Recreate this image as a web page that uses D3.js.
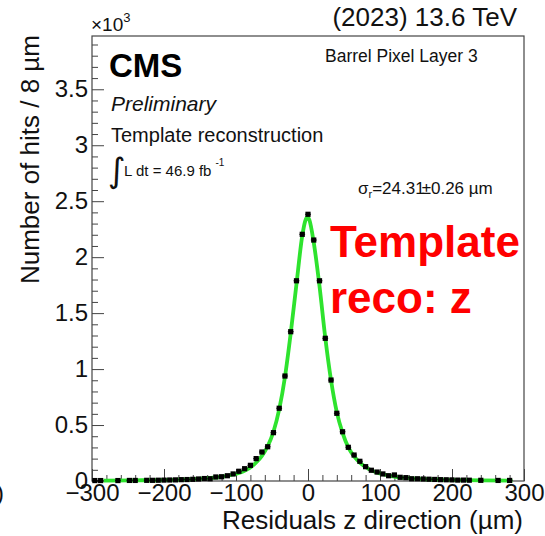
<!DOCTYPE html>
<html>
<head>
<meta charset="utf-8">
<script src="https://cdn.jsdelivr.net/npm/d3@7"></script>
<style>
  html, body { margin: 0; padding: 0; background: #fff; }
  svg { display: block; font-family: "Liberation Sans", Arial, Helvetica, sans-serif; }
</style>
</head>
<body>
<svg id="chart" width="545" height="536"></svg>
<script>
// Histogram: bin centres (µm, 8 µm bins) and contents (×10^3 hits)
const binCenters = [
  -296, -288, -264, -248, -240, -224, -216, -208, -200, -192, -184, -176, -168, -160,
  -152, -144, -136, -128, -120, -112, -104, -96, -88, -80, -72, -64, -56, -48, -40,
  -32, -24, -16, -8, 0, 8, 16, 24, 32, 40, 48, 56, 64, 72, 80, 88, 96, 104, 112,
  120, 128, 136, 144, 152, 160, 168, 176, 184, 192, 200, 208, 216, 224, 240, 264, 280
];
const binCounts = [
  0.004, 0.004, 0.004, 0.005, 0.005, 0.006, 0.006, 0.007, 0.008, 0.009, 0.010, 0.012, 0.013, 0.015,
  0.018, 0.022, 0.020, 0.036, 0.038, 0.047, 0.063, 0.087, 0.110, 0.140, 0.200, 0.259, 0.306, 0.432, 0.650,
  0.938, 1.334, 1.789, 2.204, 2.383, 2.153, 1.789, 1.275, 0.902, 0.605, 0.440, 0.301, 0.232, 0.176, 0.128, 0.096, 0.080, 0.063, 0.047,
  0.054, 0.033, 0.030, 0.020, 0.020, 0.018, 0.016, 0.014, 0.012, 0.011, 0.010, 0.008, 0.008, 0.007, 0.006, 0.005, 0.005
];
const binWidth = 8;

// Fitted resolution function, sampled along the residual axis
const fitX = [
  -284, -240, -200, -160, -140, -120, -104, -96, -88, -80, -72, -64, -56, -48, -40, -32, -24, -16, -8, -4, -1,
  2, 8, 16, 24, 32, 40, 48, 56, 64, 72, 80, 88, 96, 104, 120, 140, 160, 200, 240, 284
];
const fitY = [
  0.004, 0.006, 0.009, 0.017, 0.025, 0.038, 0.058, 0.072, 0.092, 0.120, 0.165, 0.225, 0.310, 0.440, 0.640, 0.930, 1.320, 1.760, 2.190, 2.320, 2.360,
  2.330, 2.130, 1.740, 1.280, 0.900, 0.615, 0.430, 0.300, 0.220, 0.165, 0.125, 0.095, 0.075, 0.060, 0.040, 0.026, 0.018, 0.010, 0.006, 0.004
];

const xMajorTicks = [-300, -200, -100, 0, 100, 200, 300];
const xMinorStep = 20;
const yMajorTicks = [0, 0.5, 1, 1.5, 2, 2.5, 3, 3.5];
const yMinorStep = 0.1;
const yMax = 3.976;

const frame = { left: 92, right: 524, top: 36, bottom: 481 };
const svg = d3.select("#chart");

const x = d3.scaleLinear().domain([-300, 300]).range([frame.left, frame.right]);
const y = d3.scaleLinear().domain([0, yMax]).range([frame.bottom, frame.top]);

const xMinor = d3.range(-300, 300.001, xMinorStep).filter(v => !xMajorTicks.includes(v));
const yMinor = d3.range(0, yMax, yMinorStep).map(v => +v.toFixed(2)).filter(v => !yMajorTicks.includes(v));

const fmtX = d => d < 0 ? "\u2212" + Math.abs(d) : String(d);
const fmtY = d => String(d);

// ---- axes (ticks pointing into the frame) ----
const gx = svg.append("g").attr("transform", `translate(0,${frame.bottom})`);
gx.call(d3.axisBottom(x).tickValues(xMajorTicks).tickSize(-12).tickPadding(3).tickFormat(fmtX));
gx.append("g").call(d3.axisBottom(x).tickValues(xMinor).tickSize(-6).tickFormat(""));
gx.selectAll(".domain").remove();
gx.selectAll("text").attr("font-size", 24).attr("fill", "#111").attr("font-family", "Liberation Sans, Arial, sans-serif");

const gy = svg.append("g").attr("transform", `translate(${frame.left},0)`);
gy.call(d3.axisLeft(y).tickValues(yMajorTicks).tickSize(-12).tickPadding(4).tickFormat(fmtY));
gy.append("g").call(d3.axisLeft(y).tickValues(yMinor).tickSize(-6).tickFormat(""));
gy.selectAll(".domain").remove();
gy.selectAll("text").attr("font-size", 24).attr("fill", "#111").attr("font-family", "Liberation Sans, Arial, sans-serif");

svg.selectAll(".tick line").attr("stroke", "#444").attr("stroke-width", 1);

// frame
svg.append("rect")
  .attr("x", frame.left).attr("y", frame.top)
  .attr("width", frame.right - frame.left).attr("height", frame.bottom - frame.top)
  .attr("fill", "none").attr("stroke", "#444").attr("stroke-width", 1.2);

// ---- fit curve ----
const fitPts = fitX.map((v, i) => [v, fitY[i]]);
svg.append("path")
  .datum(fitPts)
  .attr("fill", "none")
  .attr("stroke", "#2ee32e")
  .attr("stroke-width", 3.8)
  .attr("stroke-linejoin", "round")
  .attr("d", d3.line().x(d => x(d[0])).y(d => y(d[1])).curve(d3.curveMonotoneX));

// ---- data points ----
const pts = binCenters.map((c, i) => ({ c, v: binCounts[i] }));
const gPts = svg.append("g");
gPts.selectAll("line.xerr").data(pts).join("line")
  .attr("class", "xerr")
  .attr("x1", d => x(d.c - binWidth / 2)).attr("x2", d => x(d.c + binWidth / 2))
  .attr("y1", d => y(d.v)).attr("y2", d => y(d.v))
  .attr("stroke", "#111").attr("stroke-width", 1);
const ms = 5.2;
gPts.selectAll("rect").data(pts).join("rect")
  .attr("x", d => x(d.c) - ms / 2).attr("y", d => y(d.v) - ms / 2)
  .attr("width", ms).attr("height", ms)
  .attr("fill", "#000");

// ---- axis titles ----
svg.append("text")
  .attr("x", 523).attr("y", 529).attr("text-anchor", "end")
  .attr("font-size", 26).attr("fill", "#111")
  .text("Residuals z direction (\u00b5m)");

svg.append("text")
  .attr("transform", `translate(39,${frame.top - 1}) rotate(-90)`)
  .attr("text-anchor", "end")
  .attr("font-size", 26).attr("fill", "#111")
  .text("Number of hits / 8 \u00b5m");

// exponent marker of the y axis
const expo = svg.append("text").attr("x", 91).attr("y", 31).attr("fill", "#111");
expo.append("tspan").attr("font-size", 19).text("\u00d710");
expo.append("tspan").attr("font-size", 13).attr("dy", -9).text("3");

// ---- header and labels ----
svg.append("text")
  .attr("x", 517).attr("y", 26).attr("text-anchor", "end")
  .attr("font-size", 26).attr("fill", "#111")
  .text("(2023) 13.6 TeV");

svg.append("text")
  .attr("x", 109).attr("y", 77)
  .attr("font-size", 33).attr("font-weight", "bold").attr("fill", "#000")
  .text("CMS");

svg.append("text")
  .attr("x", 111).attr("y", 111)
  .attr("font-size", 21).attr("font-style", "italic").attr("fill", "#111")
  .text("Preliminary");

svg.append("text")
  .attr("x", 111).attr("y", 142)
  .attr("font-size", 20).attr("fill", "#111")
  .text("Template reconstruction");

svg.append("text")
  .attr("x", 108).attr("y", 182)
  .attr("font-size", 34).attr("font-family", "DejaVu Sans, sans-serif").attr("fill", "#111")
  .text("\u222b");

const lumi = svg.append("text").attr("x", 124).attr("y", 176).attr("fill", "#111");
lumi.append("tspan").attr("font-size", 15).text("L dt = 46.9 fb");
lumi.append("tspan").attr("font-size", 10).attr("dx", 4).attr("dy", -10).text("-1");

svg.append("text")
  .attr("x", 325).attr("y", 62)
  .attr("font-size", 17.5).attr("fill", "#111")
  .text("Barrel Pixel Layer 3");

const sig = svg.append("text").attr("x", 358).attr("y", 194).attr("fill", "#111").attr("font-size", 17);
sig.append("tspan").text("\u03c3");
sig.append("tspan").attr("font-size", 11).attr("dy", 4).text("r");
sig.append("tspan").attr("dy", -4).text("=24.31");
sig.append("tspan").attr("dx", -3).text("\u00b10.26 \u00b5m");

svg.append("text")
  .attr("x", 330).attr("y", 257)
  .attr("font-size", 44).attr("font-weight", "bold").attr("fill", "#ff0000")
  .text("Template");
svg.append("text")
  .attr("x", 330).attr("y", 313)
  .attr("font-size", 44).attr("font-weight", "bold").attr("fill", "#ff0000")
  .text("reco: z");

// clipped glyph at the lower-left edge of the canvas
svg.append("text")
  .attr("x", -4).attr("y", 501)
  .attr("font-size", 24).attr("fill", "#111")
  .text(")");
</script>
</body>
</html>
